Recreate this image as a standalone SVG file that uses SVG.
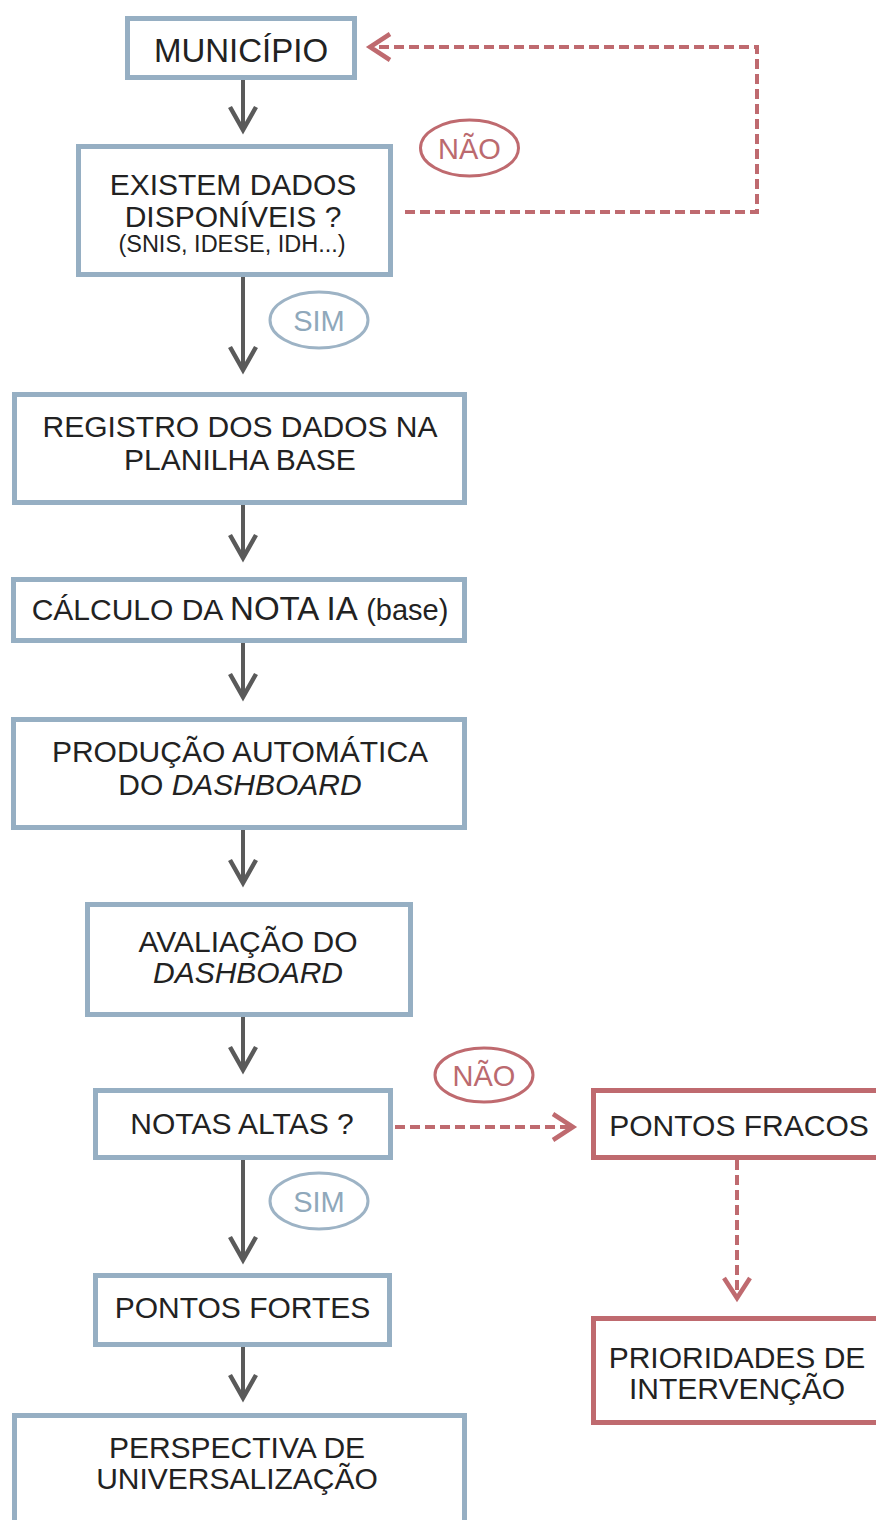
<svg xmlns="http://www.w3.org/2000/svg" width="876" height="1520" viewBox="0 0 876 1520">
<style>
  text { font-family: "Liberation Sans", Arial, sans-serif; fill: #222; text-anchor: middle; }
  .t { font-size: 30px; }
  .box { fill: #fff; stroke: #96afc3; stroke-width: 5; }
  .rbox { fill: #fff; stroke: #bf6a6f; stroke-width: 5; }
  .g { fill: none; stroke: #5a5a5a; stroke-width: 4; }
  .r { fill: none; stroke: #bf6a6f; stroke-width: 4; stroke-dasharray: 10 5; }
  .sim { fill: none; stroke: #9db3c5; stroke-width: 3; }
  .nao { fill: none; stroke: #bf6a6f; stroke-width: 3; }
  .simt { font-size: 29px; fill: #8fa8bb; }
  .naot { font-size: 29px; fill: #bb6a6f; }
</style>
<defs>
  <marker id="ag" markerUnits="userSpaceOnUse" viewBox="-26 -16 30 32" markerWidth="30" markerHeight="32" refX="0" refY="0" orient="auto" overflow="visible">
    <path d="M-23,-13 L0,0 L-23,13" fill="none" stroke="#5a5a5a" stroke-width="4.5" stroke-linejoin="miter"/>
  </marker>
  <marker id="ar" markerUnits="userSpaceOnUse" viewBox="-24 -16 28 32" markerWidth="28" markerHeight="32" refX="0" refY="0" orient="auto" overflow="visible">
    <path d="M-20,-13 L0,0 L-20,13" fill="none" stroke="#bf6a6f" stroke-width="4.5"/>
  </marker>
</defs>

<g id="connectors">
  <path class="g" d="M243,80 V130" marker-end="url(#ag)"/>
  <path class="g" d="M243,277 V370" marker-end="url(#ag)"/>
  <path class="g" d="M243,505 V558" marker-end="url(#ag)"/>
  <path class="g" d="M243,643 V697" marker-end="url(#ag)"/>
  <path class="g" d="M243,830 V883" marker-end="url(#ag)"/>
  <path class="g" d="M243,1017 V1070" marker-end="url(#ag)"/>
  <path class="g" d="M243,1160 V1260" marker-end="url(#ag)"/>
  <path class="g" d="M243,1347 V1398" marker-end="url(#ag)"/>
  <path class="r" d="M405,212 H757 V47 H370" marker-end="url(#ar)"/>
  <path class="r" d="M395,1127 H573" marker-end="url(#ar)"/>
  <path class="r" d="M737,1160 V1298" marker-end="url(#ar)"/>
</g>

<g id="label-nao-1">
  <ellipse class="nao" cx="469.5" cy="148" rx="49" ry="28"/>
  <text class="naot" x="469.5" y="158.5">NÃO</text>
</g>
<g id="label-sim-1">
  <ellipse class="sim" cx="319" cy="320" rx="49" ry="28"/>
  <text class="simt" x="319" y="330.5">SIM</text>
</g>
<g id="label-nao-2">
  <ellipse class="nao" cx="484" cy="1075" rx="49" ry="27"/>
  <text class="naot" x="484" y="1085.5">NÃO</text>
</g>
<g id="label-sim-2">
  <ellipse class="sim" cx="319" cy="1201" rx="49" ry="28"/>
  <text class="simt" x="319" y="1211.5">SIM</text>
</g>

<g id="municipio">
  <rect class="box" x="127.5" y="18.5" width="227" height="59"/>
  <text x="241" y="62" font-size="33">MUNICÍPIO</text>
</g>
<g id="existem-dados">
  <rect class="box" x="78.5" y="146.5" width="312" height="128"/>
  <text class="t" x="233" y="195">EXISTEM DADOS</text>
  <text class="t" x="233" y="227">DISPONÍVEIS ?</text>
  <text x="232" y="252" font-size="23.5">(SNIS, IDESE, IDH...)</text>
</g>
<g id="registro">
  <rect class="box" x="14.5" y="394.5" width="450" height="108"/>
  <text class="t" x="240" y="437">REGISTRO DOS DADOS NA</text>
  <text class="t" x="240" y="470">PLANILHA BASE</text>
</g>
<g id="calculo">
  <rect class="box" x="13.5" y="579.5" width="451" height="61"/>
  <text x="240" y="620" font-size="30">CÁLCULO DA <tspan font-size="33">NOTA IA</tspan> <tspan font-size="29">(base)</tspan></text>
</g>
<g id="producao">
  <rect class="box" x="13.5" y="719.5" width="451" height="108"/>
  <text class="t" x="240" y="762">PRODUÇÃO AUTOMÁTICA</text>
  <text class="t" x="240" y="795">DO <tspan font-style="italic">DASHBOARD</tspan></text>
</g>
<g id="avaliacao">
  <rect class="box" x="87.5" y="904.5" width="323" height="110"/>
  <text class="t" x="248" y="952">AVALIAÇÃO DO</text>
  <text class="t" x="248" y="983" font-style="italic">DASHBOARD</text>
</g>
<g id="notas-altas">
  <rect class="box" x="95.5" y="1090.5" width="295" height="67"/>
  <text class="t" x="242" y="1134">NOTAS ALTAS ?</text>
</g>
<g id="pontos-fortes">
  <rect class="box" x="95.5" y="1275.5" width="294" height="69"/>
  <text class="t" x="242.5" y="1318">PONTOS FORTES</text>
</g>
<g id="perspectiva">
  <rect class="box" x="14.5" y="1415.5" width="450" height="130"/>
  <text class="t" x="237" y="1458">PERSPECTIVA DE</text>
  <text class="t" x="237" y="1489">UNIVERSALIZAÇÃO</text>
</g>
<g id="pontos-fracos">
  <rect class="rbox" x="593.5" y="1090.5" width="300" height="67"/>
  <text class="t" x="739" y="1136">PONTOS FRACOS</text>
</g>
<g id="prioridades">
  <rect class="rbox" x="593.5" y="1318.5" width="300" height="104"/>
  <text class="t" x="737" y="1368">PRIORIDADES DE</text>
  <text class="t" x="737" y="1399">INTERVENÇÃO</text>
</g>
</svg>
